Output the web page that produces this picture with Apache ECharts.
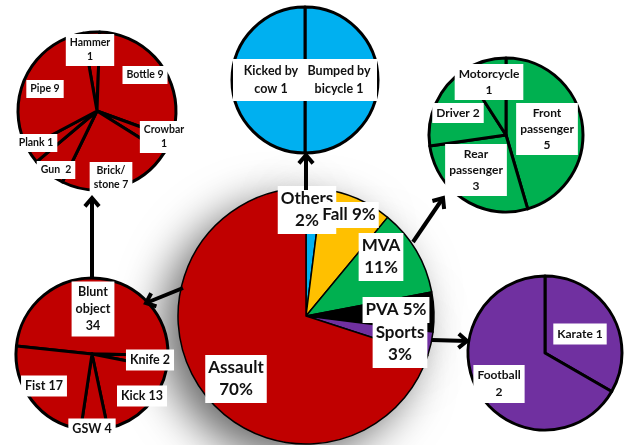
<!DOCTYPE html>
<html><head><meta charset="utf-8">
<script src="https://cdn.jsdelivr.net/npm/echarts@6/dist/echarts.min.js"></script>
<style>html,body{margin:0;padding:0;background:#fff}#c{width:627px;height:445px}</style>
</head><body><div id="c"></div>
<script>
// ---- data ----
const mainCats = ['Others', 'Fall', 'MVA', 'PVA', 'Sports', 'Assault'];
const mainVals = [2, 9, 11, 5, 3, 70];
const mainText = ['Others\n2%', 'Fall 9%', 'MVA\n11%', 'PVA 5%', 'Sports\n3%', 'Assault\n70%'];

const assaultCats = ['Blunt object', 'Knife', 'Kick', 'GSW', 'Fist'];
const assaultVals = [34, 2, 13, 4, 17];
const assaultText = ['Blunt\nobject\n34', 'Knife 2', 'Kick 13', 'GSW 4', 'Fist 17'];

const bluntCats = ['Hammer', 'Bottle', 'Crowbar', 'Brick/stone', 'Gun', 'Plank', 'Pipe'];
const bluntVals = [1, 9, 1, 7, 2, 1, 9];
const bluntText = ['Hammer\n1', 'Bottle 9', 'Crowbar\n1', 'Brick/\nstone 7', 'Gun  2', 'Plank 1', 'Pipe 9'];

const othersCats = ['Bumped by bicycle', 'Kicked by cow'];
const othersVals = [1, 1];
const othersText = ['Bumped by\nbicycle 1', 'Kicked by\ncow 1'];

const mvaCats = ['Front passenger', 'Rear passenger', 'Driver', 'Motorcycle'];
const mvaVals = [5, 3, 2, 1];
const mvaText = ['Front\npassenger\n5', 'Rear\npassenger\n3', 'Driver 2', 'Motorcycle\n1'];

const sportsCats = ['Karate', 'Football'];
const sportsVals = [1, 2];
const sportsText = ['Karate 1', 'Football\n2'];

// ---- layout / style (not data) ----
const mainColors = ['#00B0F0', '#FFC000', '#00B050', '#000000', '#7030A0', '#C00000'];
const FONT = 'Lato, "Open Sans", sans-serif';

const mainPos = [[307, 210], [349, 215], [381, 257], [396, 310], [400, 344], [236, 379]];
const assaultPos = [[93, 309], [150, 360], [142, 396], [92, 429], [44, 386]];
const bluntPos = [[90, 50], [145, 75], [164, 137], [111, 178], [56, 170], [36, 143], [45, 89]];
const othersPos = [[305, 80], [305, 80]];
const mvaPos = [[547, 129], [476, 170], [458, 113], [489, 82]];
const sportsPos = [[580, 334], [499, 384]];

function mk(cats, vals) { return cats.map((c, i) => ({ name: c, value: vals[i] })); }

// returns [sector series, label overlay series]
function pieWithLabels(cats, vals, texts, pos, center, r, colorFn, startAngle, bw, fs, lh, extra, z) {
  const sectors = {
    type: 'pie', center: center, radius: r, startAngle: startAngle, clockwise: true,
    animation: false, silent: true, z: z,
    data: mk(cats, vals),
    itemStyle: { color: colorFn, borderColor: '#000', borderWidth: bw },
    label: { show: false }, labelLine: { show: false }
  };
  const labels = {
    type: 'pie', center: center, radius: r, startAngle: startAngle, clockwise: true,
    animation: false, silent: true, zlevel: 1, z: 20,
    data: mk(cats, vals),
    itemStyle: { color: 'rgba(0,0,0,0)', borderWidth: 0 },
    label: Object.assign({
      show: true, position: 'inside',
      formatter: p => texts[p.dataIndex],
      color: '#111', fontFamily: FONT, fontWeight: 'bold', fontSize: fs, lineHeight: lh,
      backgroundColor: '#fff', padding: [2, 4], align: 'center'
    }, extra || {}),
    labelLine: { show: false },
    labelLayout: p => ({ x: pos[p.dataIndex][0], y: pos[p.dataIndex][1], align: 'center', verticalAlign: 'middle' })
  };
  return [sectors, labels];
}

// arrows: [x1, y1, x2(tip), y2(tip)]
const arrows = [[306, 190, 306, 155], [413, 242, 443, 198], [432, 340, 467, 341], [183, 288, 146, 303], [92, 279, 92, 198]];
function arrowGraphics() {
  const g = [];
  arrows.forEach(a => {
    const [x1, y1, x2, y2] = a;
    const ang = Math.atan2(y2 - y1, x2 - x1);
    const L = 11, spread = 0.7;
    const p1 = [x2 - L * Math.cos(ang - spread), y2 - L * Math.sin(ang - spread)];
    const p2 = [x2 - L * Math.cos(ang + spread), y2 - L * Math.sin(ang + spread)];
    g.push({ type: 'line', zlevel: 1, z: 50, shape: { x1, y1, x2, y2 }, style: { stroke: '#000', lineWidth: 4 } });
    g.push({ type: 'polyline', zlevel: 1, z: 50, shape: { points: [p1, [x2, y2], p2] }, style: { stroke: '#000', lineWidth: 4, fill: null, lineJoin: 'miter' } });
  });
  return g;
}

// "Others" breakdown: both labels share one white box (left half / right half)
const othersPair = [othersText[1].split('\n'), othersText[0].split('\n')];
const othersCell = { width: 68, align: 'center', fontFamily: FONT, fontWeight: 'bold', fontSize: 12.5, lineHeight: 18, color: '#111' };
const othersSeries = pieWithLabels(othersCats, othersVals, othersText, othersPos, [305, 80], 73, '#00B0F0', 90, 3, 12.5, 18,
  {
    padding: [3, 4],
    formatter: p => p.dataIndex === 0
      ? othersPair[0].map((l, i) => '{a|' + l + '}{a|' + othersPair[1][i] + '}').join('\n')
      : '',
    rich: { a: othersCell }
  }, 3);
othersSeries[1].data[1].label = { show: false };

const series = [
  // shadow layer for main pie
  {
    type: 'pie', center: [306, 316], radius: 128, startAngle: 90, animation: false, silent: true, z: 1,
    data: mk(mainCats, mainVals),
    itemStyle: { color: '#fff', shadowBlur: 45, shadowOffsetX: -16, shadowOffsetY: 14, shadowColor: 'rgba(0,0,0,0.6)' },
    label: { show: false }, labelLine: { show: false }
  }
].concat(
  pieWithLabels(mainCats, mainVals, mainText, mainPos, [306, 316], 128, p => mainColors[p.dataIndex], 90, 1.5, 17, 22, { padding: [2, 3] }, 2),
  pieWithLabels(assaultCats, assaultVals, assaultText, assaultPos, [92, 354], 76, '#C00000', 174, 3, 12.5, 17, null, 3),
  pieWithLabels(bluntCats, bluntVals, bluntText, bluntPos, [97, 111], 79, '#C00000', 100, 3, 10.5, 14, null, 3),
  othersSeries,
  pieWithLabels(mvaCats, mvaVals, mvaText, mvaPos, [506, 135], 77, '#00B050', 90, 3, 12, 16, null, 3),
  pieWithLabels(sportsCats, sportsVals, sportsText, sportsPos, [545, 353], 77, '#7030A0', 90, 3, 12, 17, null, 3)
);

const chart = echarts.init(document.getElementById('c'), null, { renderer: 'canvas' });
chart.setOption({
  backgroundColor: '#fff',
  animation: false,
  graphic: arrowGraphics(),
  series: series
});
</script></body></html>
